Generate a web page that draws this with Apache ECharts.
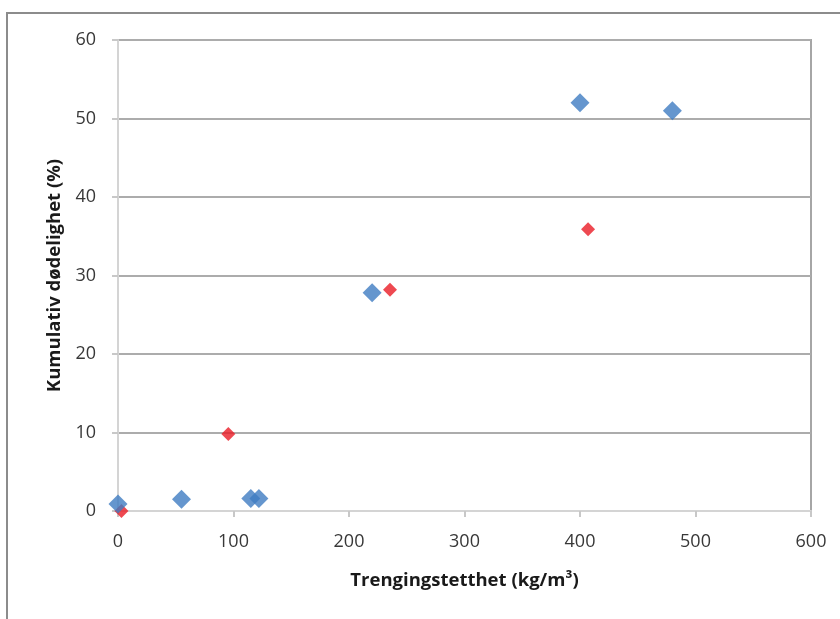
<!DOCTYPE html>
<html>
<head>
<meta charset="utf-8">
<script src="https://cdn.jsdelivr.net/npm/echarts@6/dist/echarts.min.js"></script>
<style>
  html, body { margin: 0; padding: 0; background: #ffffff; }
  #chart { width: 840px; height: 619px; }
</style>
</head>
<body>
<div id="chart"></div>
<script>
// Crowding density (kg/m³) vs cumulative mortality (%)
const blueDensity = [0, 55, 115, 122, 220, 400, 480];
const blueMortality = [0.9, 1.5, 1.6, 1.6, 27.8, 52, 51];
const redDensity = [3, 95.5, 235.5, 407];
const redMortality = [0, 9.8, 28.2, 35.9];

const xTicks = [0, 100, 200, 300, 400, 500, 600];
const yTicks = [0, 10, 20, 30, 40, 50, 60];

const pairs = (xs, ys) => xs.map((x, i) => [x, ys[i]]);

const font = '"Open Sans", Lato, sans-serif';
const chart = echarts.init(document.getElementById('chart'), null, { renderer: 'canvas' });

chart.setOption({
  backgroundColor: '#ffffff',
  animation: false,
  graphic: [{
    type: 'polyline',
    shape: { points: [[7, 619], [7, 13], [840, 13]] },
    style: { stroke: '#8c8c8c', lineWidth: 2, fill: null },
    silent: true
  }],
  grid: {
    left: 118, top: 40, right: 29, bottom: 108,
    show: true, borderColor: '#a6a6a6', borderWidth: 2, backgroundColor: 'transparent'
  },
  xAxis: {
    type: 'value',
    min: xTicks[0], max: xTicks[xTicks.length - 1], interval: 100,
    name: 'Trengingstetthet (kg/m³)',
    nameLocation: 'middle', nameGap: 60,
    nameTextStyle: { fontFamily: font, fontWeight: 'bold', fontSize: 18.5, color: '#1a1a1a' },
    axisLine: { show: true, lineStyle: { color: '#d4d4d4', width: 2 } },
    axisTick: { show: true, length: 6, lineStyle: { color: '#c8c8c8', width: 2 } },
    axisLabel: { fontFamily: font, fontSize: 18, color: '#383838', margin: 22 },
    splitLine: { show: false }
  },
  yAxis: {
    type: 'value',
    min: yTicks[0], max: yTicks[yTicks.length - 1], interval: 10,
    name: 'Kumulativ dødelighet (%)',
    nameLocation: 'middle', nameGap: 51,
    nameTextStyle: { fontFamily: font, fontWeight: 'bold', fontSize: 18.5, color: '#1a1a1a' },
    axisLine: { show: true, lineStyle: { color: '#d4d4d4', width: 2 } },
    axisTick: { show: true, length: 6, lineStyle: { color: '#c8c8c8', width: 2 } },
    axisLabel: { fontFamily: font, fontSize: 18, color: '#383838', margin: 22 },
    splitLine: { show: true, lineStyle: { color: '#acacac', width: 2 } }
  },
  series: [
    {
      name: 'rød',
      type: 'scatter',
      symbol: 'diamond',
      symbolSize: 14,
      itemStyle: { color: '#ea1c26' },
      data: pairs(redDensity, redMortality),
      z: 2
    },
    {
      name: 'blå',
      type: 'scatter',
      symbol: 'diamond',
      symbolSize: 19,
      itemStyle: { color: '#3f7cc2' },
      data: pairs(blueDensity, blueMortality),
      z: 3
    }
  ]
});
</script>
</body>
</html>
